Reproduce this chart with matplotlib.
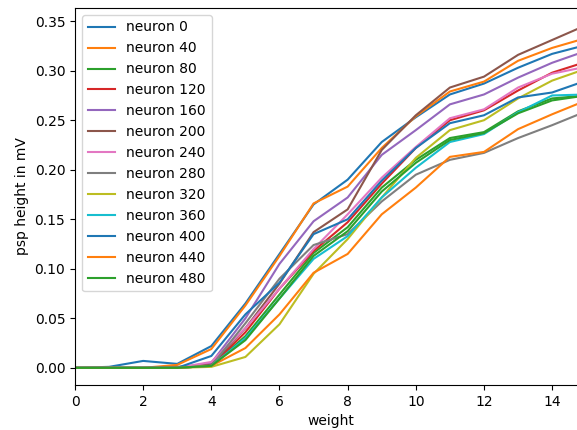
import matplotlib
matplotlib.use("Agg")
import matplotlib.pyplot as plt
import numpy as np

weights = list(range(16))
neuron_ids = [0, 40, 80, 120, 160, 200, 240, 280, 320, 360, 400, 440, 480]

n0 = [0, 0.001, 0.007, 0.004, 0.022, 0.065, 0.115, 0.165, 0.190, 0.228, 0.253, 0.276, 0.287, 0.303, 0.317, 0.326]
n40 = [0, 0, 0, 0.003, 0.019, 0.063, 0.113, 0.166, 0.183, 0.222, 0.254, 0.279, 0.289, 0.310, 0.323, 0.333]
n80 = [0, 0, 0, 0, 0.002, 0.032, 0.074, 0.116, 0.142, 0.182, 0.210, 0.232, 0.238, 0.259, 0.272, 0.275]
n120 = [0, 0, 0, 0, 0.002, 0.036, 0.080, 0.118, 0.147, 0.186, 0.222, 0.250, 0.260, 0.280, 0.298, 0.309]
n160 = [0, 0, 0, 0, 0.005, 0.050, 0.105, 0.148, 0.172, 0.215, 0.240, 0.266, 0.276, 0.293, 0.308, 0.320]
n200 = [0, 0, 0, 0.001, 0.003, 0.040, 0.085, 0.137, 0.160, 0.220, 0.255, 0.283, 0.294, 0.316, 0.331, 0.346]
n240 = [0, 0, 0, 0, 0.006, 0.040, 0.080, 0.120, 0.155, 0.192, 0.223, 0.252, 0.261, 0.283, 0.297, 0.304]
n280 = [0, 0, 0, 0, 0.002, 0.045, 0.090, 0.124, 0.135, 0.168, 0.195, 0.210, 0.217, 0.232, 0.245, 0.259]
n320 = [0, 0, 0, 0, 0.001, 0.011, 0.044, 0.095, 0.130, 0.172, 0.212, 0.240, 0.250, 0.272, 0.290, 0.302]
n360 = [0, 0, 0, 0, 0.002, 0.030, 0.070, 0.110, 0.133, 0.172, 0.202, 0.228, 0.236, 0.258, 0.275, 0.276]
n400 = [0, 0, 0, 0, 0.012, 0.054, 0.086, 0.135, 0.150, 0.189, 0.222, 0.247, 0.255, 0.273, 0.278, 0.290]
n440 = [0, 0, 0, 0, 0.002, 0.020, 0.054, 0.096, 0.115, 0.155, 0.182, 0.213, 0.218, 0.241, 0.256, 0.270]
n480 = [0, 0, 0, 0, 0.002, 0.028, 0.070, 0.113, 0.138, 0.178, 0.207, 0.230, 0.237, 0.257, 0.270, 0.275]

series = [n0, n40, n80, n120, n160, n200, n240, n280, n320, n360, n400, n440, n480]

fig = plt.figure(figsize=(5.77, 4.30), dpi=100)
ax = fig.add_axes([0.130, 0.1047, 0.886, 0.8767])
for nid, vals in zip(neuron_ids, series):
    ax.plot(weights, vals, label=f"neuron {nid}")
ax.set_xlim(0, 15)
ax.set_xlabel("weight")
ax.set_ylabel("psp height in mV")
ax.legend(loc="upper left")
fig.savefig("out.png", dpi=100)
